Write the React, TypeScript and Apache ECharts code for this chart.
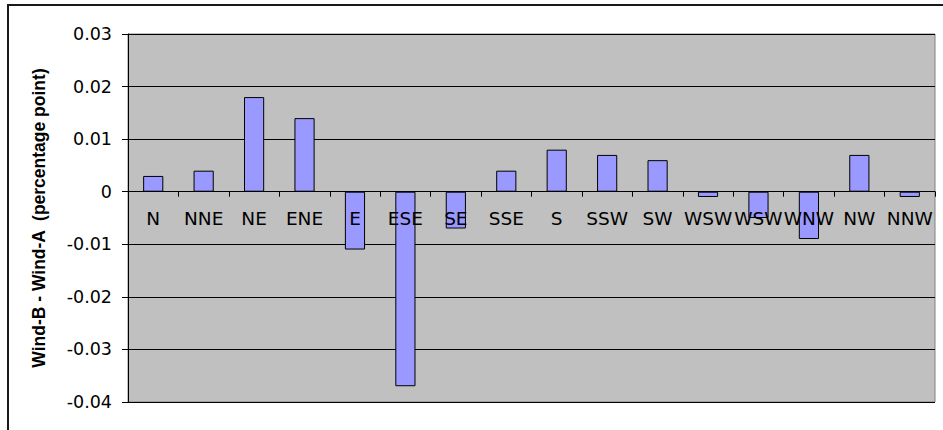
import React, { useEffect, useRef } from "react";
import * as echarts from "echarts";

// Wind directions (16-point compass, as labelled on the sheet)
const directions = [
  "N", "NNE", "NE", "ENE", "E", "ESE", "SE", "SSE",
  "S", "SSW", "SW", "WSW", "WSW", "WNW", "NW", "NNW",
];

// Difference Wind-B minus Wind-A, percentage points
const differences = [
  0.003, 0.004, 0.018, 0.014, -0.011, -0.037, -0.007, 0.004,
  0.008, 0.007, 0.006, -0.001, -0.005, -0.009, 0.007, -0.001,
];

const yTicks = { min: -0.04, max: 0.03, interval: 0.01 };
const yAxisTitle = "Wind-B - Wind-A  (percentage point)";

const TICK_FONT = "'DejaVu Sans', 'Liberation Sans', Arial, sans-serif";
const TITLE_FONT = "'Liberation Sans', Arial, sans-serif";

const WIDTH = 943;
const HEIGHT = 430;
const GRID = { left: 128, top: 34, right: 8, bottom: 28 };

export default function App() {
  const ref = useRef<HTMLDivElement>(null);

  useEffect(() => {
    if (!ref.current) return;
    const chart = echarts.init(ref.current, undefined, { renderer: "svg" });

    // The category axis sits on the value axis's zero line: lift it from the
    // grid's bottom edge by the share of the value range lying below zero.
    const gridHeight = HEIGHT - GRID.top - GRID.bottom;
    const zeroLift = (gridHeight * (0 - yTicks.min)) / (yTicks.max - yTicks.min);

    chart.setOption({
      animation: false,
      backgroundColor: "#ffffff",
      textStyle: { fontFamily: TICK_FONT },
      grid: {
        ...GRID,
        show: true,
        backgroundColor: "#C0C0C0",
        borderColor: "#808080",
        borderWidth: 1,
      },
      graphic: [
        {
          type: "rect",
          shape: { x: 8, y: 5, width: 1000, height: 1000 },
          style: { fill: "none", stroke: "#1a1a1a", lineWidth: 2 },
          silent: true,
          z: 100,
        },
      ],
      xAxis: {
        type: "category",
        data: directions,
        boundaryGap: true,
        position: "bottom",
        offset: -zeroLift,
        axisLine: {
          show: true,
          onZero: false,
          lineStyle: { color: "#000", width: 1 },
        },
        axisTick: { show: true, length: 5, alignWithLabel: false, lineStyle: { color: "#000" } },
        axisLabel: {
          interval: 0,
          margin: 17,
          color: "#000",
          fontSize: 18.5,
          fontFamily: TICK_FONT,
          hideOverlap: false,
        },
        z: 10,
      },
      yAxis: {
        type: "value",
        min: yTicks.min,
        max: yTicks.max,
        interval: yTicks.interval,
        name: yAxisTitle,
        nameLocation: "middle",
        nameGap: 80,
        nameTextStyle: {
          fontFamily: TITLE_FONT,
          fontWeight: "bold",
          fontSize: 17.5,
          color: "#000",
        },
        axisLine: { show: true, lineStyle: { color: "#000", width: 1 } },
        axisTick: { show: true, length: 6, lineStyle: { color: "#000" } },
        axisLabel: {
          margin: 16,
          color: "#000",
          fontSize: 17.5,
          fontFamily: TICK_FONT,
          formatter: (v: number) => {
            const r = Math.round(v * 100) / 100;
            return r === 0 ? "0" : r.toFixed(2);
          },
        },
        splitLine: { show: true, lineStyle: { color: "#000", width: 1 } },
      },
      series: [
        {
          type: "bar",
          data: differences,
          barCategoryGap: "60%",
          itemStyle: { color: "#9999FF", borderColor: "#000", borderWidth: 1 },
          z: 2,
        },
      ],
    });
    return () => chart.dispose();
  }, []);

  return (
    <div
      ref={ref}
      style={{ position: "fixed", left: 0, top: 0, width: WIDTH, height: HEIGHT }}
    />
  );
}
